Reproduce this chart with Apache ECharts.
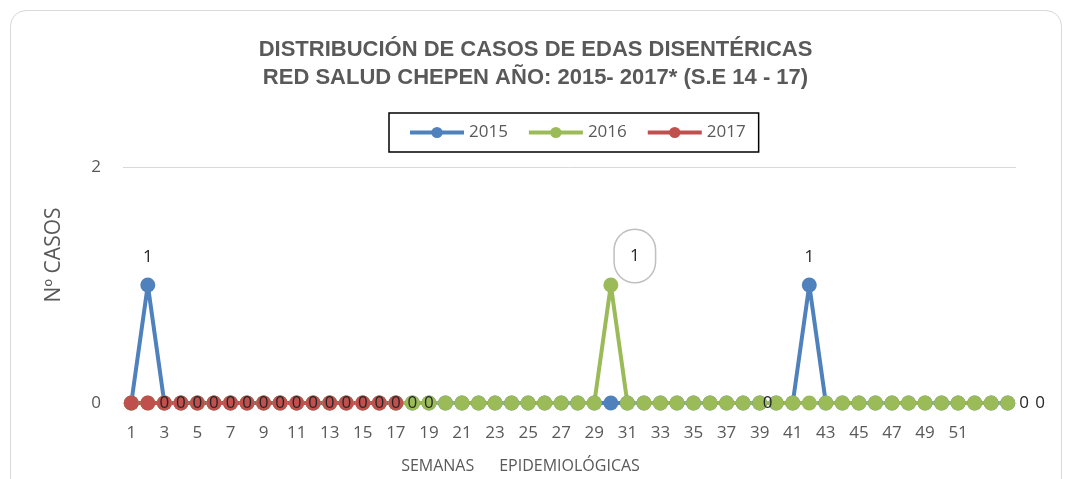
<!DOCTYPE html>
<html lang="es">
<head>
    <meta charset="UTF-8">
    <title>EDAS disentéricas</title>
    <style>
        body{
            margin: 0;
            background: #fff;
        }
        .frame{
            position: absolute;
            left: 10px;
            top: 10px;
            width: 1050px;
            height: 520px;
            border: 1px solid #d9d9d9;
            border-radius: 16px;
        }
        .chart{
            position: absolute;
            left: 0;
            top: 0;
            width: 1071px;
            height: 479px;
        }
    </style>
</head>
<body>
    <div class="frame"></div>
    <div class="chart"></div>

    <script src="https://cdn.jsdelivr.net/npm/echarts@6/dist/echarts.min.js"></script>
    <script>
        // semanas epidemiologicas (las dos ultimas sin rotulo, como en el original)
        let semanas = ['1','2','3','4','5','6','7','8','9','10','11','12','13','14','15','16','17','18',
            '19','20','21','22','23','24','25','26','27','28','29','30','31','32','33','34','35','36',
            '37','38','39','40','41','42','43','44','45','46','47','48','49','50','51','52','','']

        let casos2015 = [0,1,0,0,0,0,0,0,0,0,0,0,0,0,0,0,0,0,0,0,0,0,0,0,0,0,0,
                         0,0,0,0,0,0,0,0,0,0,0,0,0,0,1,0,0,0,0,0,0,0,0,0,0,0,0]
        let casos2016 = [0,0,0,0,0,0,0,0,0,0,0,0,0,0,0,0,0,0,0,0,0,0,0,0,0,0,0,
                         0,0,1,0,0,0,0,0,0,0,0,0,0,0,0,0,0,0,0,0,0,0,0,0,0,0,0]
        let casos2017 = [0,0,0,0,0,0,0,0,0,0,0,0,0,0,0,0,0]

        let colores = ['#4f81bd','#9bbb59','#c0504d']
        let txt = '#595959'
        let fuente = "'Open Sans', sans-serif"

        let chart = echarts.init(document.querySelector('.chart'))

        // etiquetas de datos: solo algunos puntos llevan rotulo
        function d2015(){
            return casos2015.map((v,i)=>{
                let p = {value:v}
                if(v > 0){
                    p.label = {show:true, position:'top', distance:12}
                }else if(i == 38){
                    p.label = {show:true, position:'inside', offset:[8,0]}
                }else if(i == casos2015.length-1){
                    p.label = {show:true, position:'right', distance:20}
                }
                return p
            })
        }
        function d2016(){
            return casos2016.map((v,i)=>{
                let p = {value:v}
                if(v > 0){
                    p.label = {
                        show:true, position:'inside', offset:[24,-29],
                        backgroundColor:'#fff', borderColor:'#bfbfbf', borderWidth:1.5,
                        borderRadius:22, width:40, height:52, align:'center', lineHeight:52
                    }
                }else if(i >= 2 && i <= 18){
                    p.label = {show:true, position:'inside'}
                }else if(i == casos2016.length-1){
                    p.label = {show:true, position:'right', distance:4}
                }
                return p
            })
        }

        let lbl = {fontSize:17, color:'#262626', fontFamily:fuente}

        let option = {
            color: colores,
            animation: false,
            title:{
                text:'DISTRIBUCIÓN DE CASOS DE EDAS DISENTÉRICAS\nRED SALUD CHEPEN AÑO: 2015- 2017* (S.E 14 - 17)',
                left:'center',
                top:31,
                textStyle:{
                    fontFamily:"'Liberation Sans', Arial, sans-serif",
                    fontSize:22,
                    fontWeight:'bold',
                    color:txt,
                    lineHeight:28
                }
            },
            legend:{
                left:389,
                top:113,
                padding:[11,13,11,19],
                itemGap:19,
                itemWidth:54,
                itemHeight:14,
                borderColor:'#000',
                borderWidth:1.5,
                lineStyle:{width:4},
                textStyle:{fontSize:17, color:txt, fontFamily:fuente}
            },
            grid:{
                left:123,
                right:55,
                top:167,
                bottom:71
            },
            xAxis:{
                type:'category',
                data:semanas,
                boundaryGap:true,
                name:'SEMANAS      EPIDEMIOLÓGICAS',
                nameLocation:'middle',
                nameGap:55,
                nameTextStyle:{fontSize:16, color:txt, fontFamily:fuente, padding:[0,98,0,0]},
                axisLine:{lineStyle:{color:'#d9d9d9'}},
                axisTick:{show:false},
                axisLabel:{interval:1, fontSize:17, color:txt, fontFamily:fuente, margin:22}
            },
            yAxis:{
                type:'value',
                min:0,
                max:2,
                interval:2,
                name:'Nº CASOS',
                nameLocation:'middle',
                nameGap:58,
                nameTextStyle:{fontSize:21, color:txt, fontFamily:fuente, padding:[0,0,0,60]},
                axisLabel:{fontSize:17, color:txt, fontFamily:fuente, margin:22},
                splitLine:{lineStyle:{color:'#d9d9d9'}}
            },
            series:[
                {
                    name:'2015', type:'line', data:d2015(),
                    symbol:'circle', symbolSize:15, showAllSymbol:true, lineStyle:{width:4},
                    label:Object.assign({show:false}, lbl)
                },
                {
                    name:'2016', type:'line', data:d2016(),
                    symbol:'circle', symbolSize:15, showAllSymbol:true, lineStyle:{width:4},
                    label:Object.assign({show:false}, lbl)
                },
                {
                    name:'2017', type:'line', data:casos2017,
                    symbol:'circle', symbolSize:15, showAllSymbol:true, lineStyle:{width:4},
                    label:{show:false}
                }
            ]
        };
        chart.setOption(option)
    </script>
</body>
</html>
